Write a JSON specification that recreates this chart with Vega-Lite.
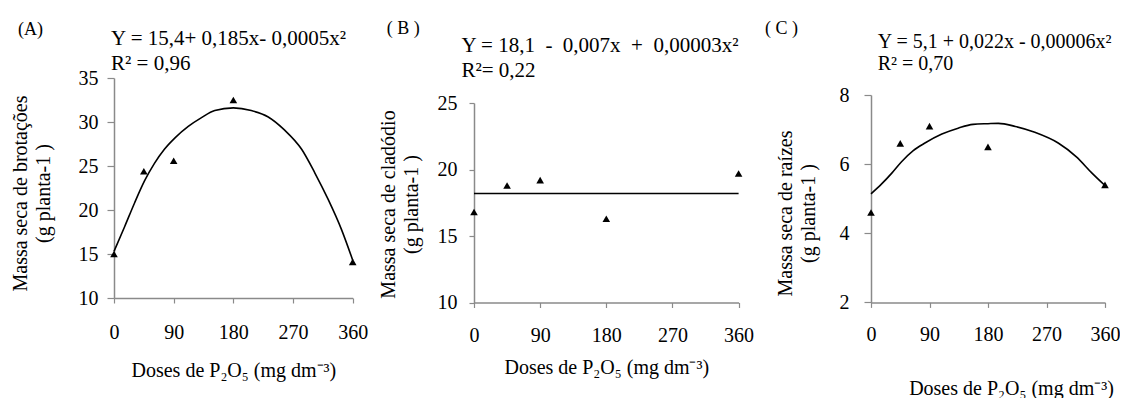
{
  "$schema": "https://vega.github.io/schema/vega-lite/v6.json",
  "padding": {"left": 9, "top": 5, "right": 0, "bottom": 0},
  "autosize": {"type": "pad"},
  "spacing": 10,
  "datasets": {
    "ptsA": [
      {"dose": 0, "massa": 15.0}, {"dose": 45, "massa": 24.4}, {"dose": 90, "massa": 25.6},
      {"dose": 180, "massa": 32.5}, {"dose": 360, "massa": 14.1}
    ],
    "fitA": [
      {"dose": 0, "massa": 15.3}, {"dose": 16, "massa": 18.1}, {"dose": 31, "massa": 20.8},
      {"dose": 46, "massa": 23.3}, {"dose": 61, "massa": 25.3}, {"dose": 76, "massa": 26.9},
      {"dose": 92, "massa": 28.2}, {"dose": 112, "massa": 29.5}, {"dose": 132, "massa": 30.5},
      {"dose": 152, "massa": 31.3}, {"dose": 180, "massa": 31.6}, {"dose": 207, "massa": 31.3},
      {"dose": 232, "massa": 30.6}, {"dose": 257, "massa": 29.1}, {"dose": 283, "massa": 26.9},
      {"dose": 303, "massa": 24.2}, {"dose": 323, "massa": 21.2}, {"dose": 343, "massa": 17.8},
      {"dose": 360, "massa": 14.3}
    ],
    "ptsB": [
      {"dose": 0, "massa": 16.8}, {"dose": 45, "massa": 18.8}, {"dose": 90, "massa": 19.2},
      {"dose": 180, "massa": 16.3}, {"dose": 360, "massa": 19.7}
    ],
    "fitB": [
      {"dose": 0, "massa": 18.2}, {"dose": 360, "massa": 18.2}
    ],
    "ptsC": [
      {"dose": 0, "massa": 4.6}, {"dose": 45, "massa": 6.6}, {"dose": 90, "massa": 7.1},
      {"dose": 180, "massa": 6.5}, {"dose": 360, "massa": 5.4}
    ],
    "fitC": [
      {"dose": 0, "massa": 5.14}, {"dose": 16, "massa": 5.42}, {"dose": 32, "massa": 5.74},
      {"dose": 47, "massa": 6.07}, {"dose": 65, "massa": 6.39}, {"dose": 83, "massa": 6.61},
      {"dose": 109, "massa": 6.87}, {"dose": 134, "massa": 7.04}, {"dose": 157, "massa": 7.15},
      {"dose": 180, "massa": 7.17}, {"dose": 196, "massa": 7.18}, {"dose": 222, "massa": 7.09},
      {"dose": 252, "massa": 6.92}, {"dose": 288, "massa": 6.61}, {"dose": 316, "massa": 6.21},
      {"dose": 340, "massa": 5.74}, {"dose": 360, "massa": 5.38}
    ],
    "empty": []
  },
  "config": {
    "font": "Liberation Serif",
    "view": {"stroke": null},
    "axis": {
      "grid": false, "domainColor": "#8a8a8a", "tickColor": "#8a8a8a", "domainWidth": 1.5, "tickWidth": 1.2,
      "labelColor": "#000000", "titleColor": "#000000", "labelFontSize": 20, "titleFontSize": 20,
      "labelFont": "Liberation Serif", "titleFont": "Liberation Serif", "titleFontWeight": "normal",
      "labelFlush": false, "labelOverlap": false
    },
    "title": {"font": "Liberation Serif", "fontWeight": "normal", "color": "#000000", "anchor": "start"}
  },
  "hconcat": [
    {
      "spacing": 0,
      "vconcat": [
        {"width": 1, "height": 15.3, "data": {"name": "empty"}, "mark": "point"},
        {
          "title": {"text": "(A)", "fontSize": 18, "frame": "bounds", "anchor": "start", "dx": 8, "offset": -11},
          "vconcat": [
            {
              "title": {"text": ["Y = 15,4+ 0,185x- 0,0005x²", "R² = 0,96"], "fontSize": 21, "lineHeight": 25, "frame": "group", "anchor": "start", "dx": -3, "offset": -6},
              "width": 238.7, "height": 220,
              "encoding": {
                "x": {"field": "dose", "type": "quantitative", "scale": {"domain": [0, 360], "nice": false},
                  "axis": {"values": [0, 90, 180, 270, 360], "tickSize": 5, "labelPadding": 19,
                    "title": "Doses de P₂O₅ (mg dm⁻³)", "titleBaseline": "alphabetic", "titleY": 78.4}},
                "y": {"field": "massa", "type": "quantitative", "scale": {"domain": [10, 35], "nice": false, "zero": false},
                  "axis": {"values": [10, 15, 20, 25, 30, 35], "tickSize": 7, "labelPadding": 9,
                    "title": ["Massa seca de brotações", "(g planta-1 )"], "titleBaseline": "alphabetic",
                    "titleX": -88, "titleY": 115, "titleLineHeight": 23, "titleAlign": "center"}}
              },
              "layer": [
                {"data": {"name": "fitA"}, "mark": {"type": "line", "color": "#000000", "strokeWidth": 1.6, "interpolate": "monotone"}},
                {"data": {"name": "ptsA"}, "mark": {"type": "point", "shape": "triangle-up", "filled": true, "color": "#000000", "opacity": 1, "size": 58}}
              ]
            }
          ]
        }
      ]
    },
    {
      "spacing": 0,
      "vconcat": [
        {"width": 1, "height": 13.4, "data": {"name": "empty"}, "mark": "point"},
        {
          "title": {"text": "( B )", "fontSize": 18, "frame": "bounds", "anchor": "start", "dx": 8, "offset": -2.5},
          "vconcat": [
            {
              "title": {"text": ["Y = 18,1\u00a0 - \u00a00,007x\u00a0 + \u00a00,00003x²", "R²= 0,22"], "fontSize": 21, "lineHeight": 25, "frame": "group", "anchor": "start", "dx": -12.6, "offset": 12},
              "width": 264.6, "height": 199.5,
              "encoding": {
                "x": {"field": "dose", "type": "quantitative", "scale": {"domain": [0, 360], "nice": false},
                  "axis": {"values": [0, 90, 180, 270, 360], "tickSize": 5, "labelPadding": 17.5,
                    "title": "Doses de P₂O₅ (mg dm⁻³)", "titleBaseline": "alphabetic", "titleY": 70.6}},
                "y": {"field": "massa", "type": "quantitative", "scale": {"domain": [10, 25], "nice": false, "zero": false},
                  "axis": {"values": [10, 15, 20, 25], "tickSize": 5, "labelPadding": 12,
                    "title": ["Massa seca de cladódio", "(g planta-1 )"], "titleBaseline": "alphabetic",
                    "titleX": -79.3, "titleY": 101, "titleLineHeight": 23, "titleAlign": "center"}}
              },
              "layer": [
                {"data": {"name": "fitB"}, "mark": {"type": "line", "color": "#000000", "strokeWidth": 1.6}},
                {"data": {"name": "ptsB"}, "mark": {"type": "point", "shape": "triangle-up", "filled": true, "color": "#000000", "opacity": 1, "size": 58}}
              ]
            }
          ]
        }
      ]
    },
    {
      "spacing": 0,
      "vconcat": [
        {"width": 1, "height": 14.6, "data": {"name": "empty"}, "mark": "point"},
        {
          "title": {"text": "( C )", "fontSize": 18, "frame": "bounds", "anchor": "start", "dx": -10, "offset": -6},
          "vconcat": [
            {
              "title": {"text": ["Y = 5,1 + 0,022x - 0,00006x²", "R² = 0,70"], "fontSize": 20, "lineHeight": 22, "frame": "group", "anchor": "start", "dx": 6.7, "offset": 11},
              "width": 234, "height": 207.4,
              "encoding": {
                "x": {"field": "dose", "type": "quantitative", "scale": {"domain": [0, 360], "nice": false},
                  "axis": {"values": [0, 90, 180, 270, 360], "tickSize": 5, "labelPadding": 17.5,
                    "title": "Doses de P₂O₅ (mg dm⁻³)", "titleBaseline": "alphabetic", "titleY": 91.6, "titleX": 140}},
                "y": {"field": "massa", "type": "quantitative", "scale": {"domain": [2, 8], "nice": false, "zero": false},
                  "axis": {"values": [2, 4, 6, 8], "tickSize": 7, "labelPadding": 15,
                    "title": ["Massa seca de raízes", "(g planta-1 )"], "titleBaseline": "alphabetic",
                    "titleX": -80, "titleY": 118, "titleLineHeight": 23, "titleAlign": "center"}}
              },
              "layer": [
                {"data": {"name": "fitC"}, "mark": {"type": "line", "color": "#000000", "strokeWidth": 1.6, "interpolate": "monotone"}},
                {"data": {"name": "ptsC"}, "mark": {"type": "point", "shape": "triangle-up", "filled": true, "color": "#000000", "opacity": 1, "size": 58}}
              ]
            }
          ]
        }
      ]
    }
  ]
}
